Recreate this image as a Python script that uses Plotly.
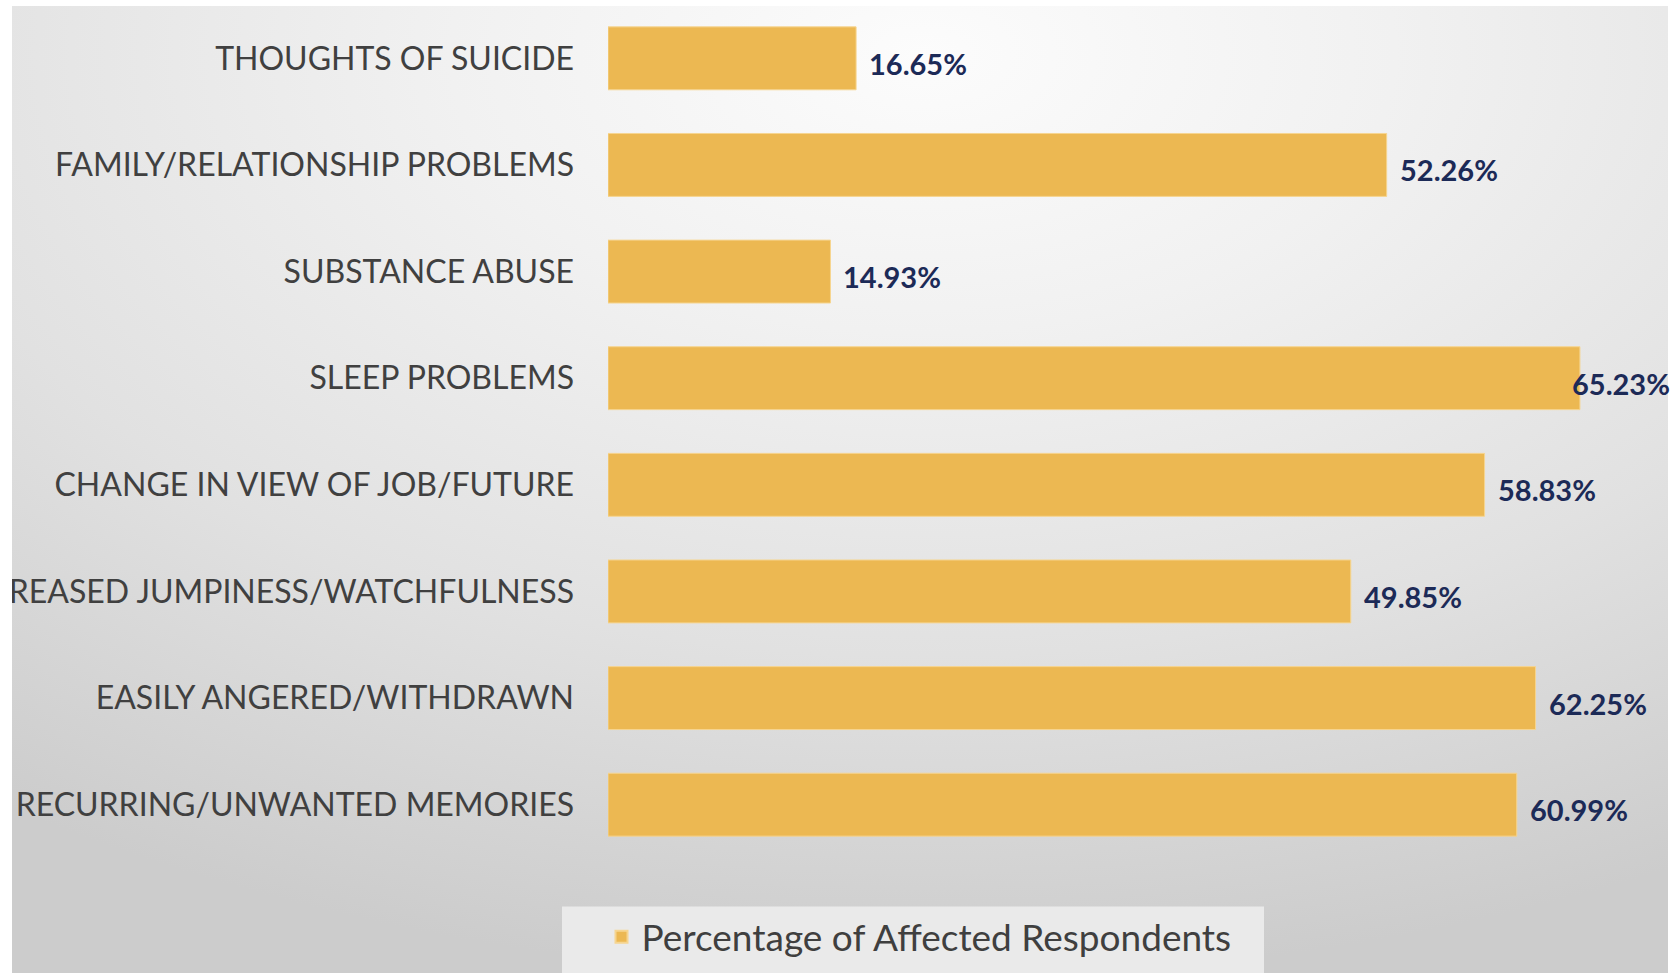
import base64
import plotly.graph_objects as go

# Survey results, listed top to bottom
categories = [
    "THOUGHTS OF SUICIDE",
    "FAMILY/RELATIONSHIP PROBLEMS",
    "SUBSTANCE ABUSE",
    "SLEEP PROBLEMS",
    "CHANGE IN VIEW OF JOB/FUTURE",
    "INCREASED JUMPINESS/WATCHFULNESS",
    "EASILY ANGERED/WITHDRAWN",
    "RECURRING/UNWANTED MEMORIES",
]
percentages = [16.65, 52.26, 14.93, 65.23, 58.83, 49.85, 62.25, 60.99]
series_name = "Percentage of Affected Respondents"

W, H = 1679, 973
ML, MR, MT, MB = 608, 28, 5, 106
PW, PH = W - ML - MR, H - MT - MB
X_MAX = 70
FONT = "Lato, Roboto, sans-serif"
LABEL_SIZE = 29
LABEL_GAP = 11
LABEL_W = 98          # approximate rendered width of a "xx.xx%" label
RIGHT_LIMIT = 1668    # keep labels inside the grey panel
PANEL_BOTTOM = 990

def px_to_paper_x(px):
    return (px - ML) / PW

def px_to_paper_y(py):
    return (H - MB - py) / PH

# Soft grey radial backdrop
svg = """<svg xmlns='http://www.w3.org/2000/svg' width='1656' height='984' viewBox='0 0 1656 984' preserveAspectRatio='none'>
<defs><radialGradient id='g' cx='0.55' cy='0.05' r='0.95' fx='0.55' fy='0.05'>
<stop offset='0' stop-color='#fcfcfc'/>
<stop offset='0.3' stop-color='#f1f1f1'/>
<stop offset='0.65' stop-color='#e1e1e1'/>
<stop offset='1' stop-color='#cccccc'/>
</radialGradient></defs>
<rect x='0' y='0' width='1656' height='984' fill='url(#g)'/>
</svg>"""
bg_src = "data:image/svg+xml;base64," + base64.b64encode(svg.encode()).decode()

fig = go.Figure()
fig.add_trace(go.Bar(
    y=categories,
    x=percentages,
    orientation="h",
    name=series_name,
    marker=dict(color="#ecb852", line=dict(color="#f6d590", width=1)),
    showlegend=True,
    hovertemplate="%{y}: %{x:.2f}%<extra></extra>",
))

# Value labels placed at the end of each bar, nudged left if they would
# run past the right edge of the panel
annotations = []
for cat, v in zip(categories, percentages):
    bar_end_px = ML + v / X_MAX * PW
    shift = min(LABEL_GAP, RIGHT_LIMIT - LABEL_W - bar_end_px)
    annotations.append(dict(
        x=v, y=cat, xref="x", yref="y",
        text=f"{v:.2f}%", showarrow=False,
        xanchor="left", yanchor="middle",
        xshift=shift, yshift=-5,
        font=dict(family=FONT, size=LABEL_SIZE, color="#1c2a57", weight="bold"),
    ))

fig.update_layout(
    width=W, height=H,
    margin=dict(l=ML, r=MR, t=MT, b=MB, pad=0),
    paper_bgcolor="white",
    plot_bgcolor="rgba(0,0,0,0)",
    bargap=0.41,
    font=dict(family=FONT, color="#3f3f3f"),
    xaxis=dict(range=[0, X_MAX], visible=False, fixedrange=True),
    yaxis=dict(
        autorange="reversed",
        showgrid=False, showline=False, zeroline=False, ticks="",
        ticklabelstandoff=33,
        tickfont=dict(family=FONT, size=32, color="#404040"),
        automargin=False,
    ),
    legend=dict(
        orientation="h",
        x=px_to_paper_x(919), xanchor="center",
        y=px_to_paper_y(947), yanchor="middle",
        bgcolor="rgba(0,0,0,0)",
        font=dict(family=FONT, size=37, color="#3f3f3f"),
        itemsizing="constant",
    ),
    annotations=annotations,
    images=[dict(
        source=bg_src, xref="paper", yref="paper",
        x=px_to_paper_x(12), y=px_to_paper_y(6),
        sizex=(1668 - 12) / PW, sizey=(PANEL_BOTTOM - 6) / PH,
        sizing="stretch", xanchor="left", yanchor="top", layer="below",
    )],
    shapes=[
        # legend panel
        dict(type="rect", xref="paper", yref="paper",
             x0=px_to_paper_x(562), x1=px_to_paper_x(1264),
             y0=px_to_paper_y(PANEL_BOTTOM), y1=px_to_paper_y(916),
             fillcolor="rgba(238,238,238,0.85)", line=dict(width=0), layer="below"),
        # white page margin at the far left
        dict(type="rect", xref="paper", yref="paper",
             x0=px_to_paper_x(0), x1=px_to_paper_x(12),
             y0=px_to_paper_y(PANEL_BOTTOM), y1=px_to_paper_y(0),
             fillcolor="white", line=dict(width=0), layer="above"),
    ],
)

fig.write_html("out.html")
